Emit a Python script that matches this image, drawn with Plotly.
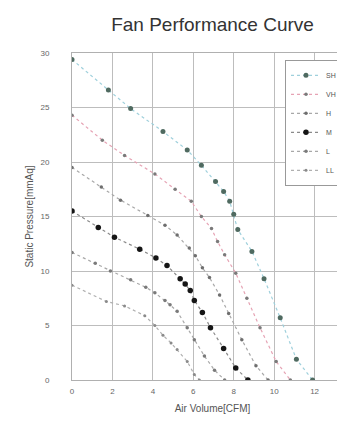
import plotly.graph_objects as go

# ---- data ----
names = ["SH", "VH", "H", "M", "L", "LL"]

sh_x = [0.0, 1.8, 2.9, 4.5, 5.7, 6.4, 7.1, 7.5, 7.8, 8.0, 8.2, 8.9, 9.5, 10.3, 11.1, 11.9]
sh_y = [29.4, 26.6, 24.9, 22.8, 21.1, 19.7, 18.2, 17.3, 16.4, 15.2, 13.8, 11.8, 9.3, 5.7, 1.9, 0.0]

vh_x = [0.0, 1.5, 2.6, 4.1, 5.1, 5.9, 6.4, 6.9, 7.2, 7.55, 8.1, 8.65, 9.3, 10.1, 10.8]
vh_y = [24.3, 22.0, 20.6, 18.9, 17.5, 16.4, 15.0, 13.9, 12.7, 11.5, 9.8, 7.5, 4.8, 1.7, 0.0]

h_x = [0.0, 1.45, 2.4, 3.75, 4.6, 5.2, 5.8, 6.1, 6.45, 6.8, 7.3, 7.75, 8.4, 9.1, 9.7]
h_y = [19.5, 17.7, 16.5, 15.1, 14.2, 13.3, 12.1, 11.4, 10.3, 9.4, 7.8, 6.1, 3.7, 1.3, 0.0]

m_x = [0.0, 1.3, 2.1, 3.35, 4.15, 4.7, 5.35, 5.6, 5.85, 6.05, 6.45, 6.85, 7.5, 8.1, 8.7]
m_y = [15.5, 14.0, 13.1, 12.0, 11.2, 10.5, 9.3, 8.8, 8.2, 7.3, 6.2, 4.8, 2.9, 1.1, 0.0]

l_x = [0.0, 1.15, 1.9, 2.9, 3.65, 4.1, 4.6, 4.85, 5.2, 5.7, 6.05, 6.55, 7.05, 7.55]
l_y = [11.7, 10.7, 10.0, 9.2, 8.5, 8.0, 7.3, 6.9, 6.3, 4.8, 3.7, 2.2, 0.9, 0.0]

ll_x = [0.0, 1.7, 2.6, 3.6, 4.1, 4.5, 4.9, 5.2, 5.7, 6.05, 6.3]
ll_y = [8.7, 7.2, 6.8, 5.9, 5.0, 4.1, 3.4, 2.8, 1.7, 0.5, 0.0]

xs = [sh_x, vh_x, h_x, m_x, l_x, ll_x]
ys = [sh_y, vh_y, h_y, m_y, l_y, ll_y]

x_ticks = [0, 2, 4, 6, 8, 10, 12, 14]
y_ticks = [0, 5, 10, 15, 20, 25, 30]

# ---- styles ----
line_colors = ["#9fd0dc", "#e6a3b4", "#a8a8a8", "#8a8a8a", "#a8a8a8", "#b0b0b0"]
marker_colors = ["#4f6a60", "#7a7a7a", "#6e6e6e", "#151515", "#7a7a7a", "#8a8a8a"]
marker_sizes = [5, 3.5, 3.5, 5.5, 3.5, 3]

fig = go.Figure()
for i, n in enumerate(names):
    fig.add_trace(go.Scatter(
        x=xs[i], y=ys[i], name=n, mode="lines+markers",
        line=dict(color=line_colors[i], width=1.2, dash="dot"),
        marker=dict(color=marker_colors[i], size=marker_sizes[i]),
    ))

fig.update_layout(
    width=345, height=422,
    margin=dict(l=64, r=0, t=45, b=50),
    paper_bgcolor="white", plot_bgcolor="white",
    font=dict(family="Liberation Sans, Arial, sans-serif", color="#444"),
    title=dict(text="Fan Performance Curve", x=0.5, xref="paper",
               y=1 - 16 / 422, yref="container", yanchor="middle", xanchor="center",
               font=dict(size=19, color="#333")),
    showlegend=True,
    legend=dict(x=0.758, y=0.979, xanchor="left", yanchor="top",
                bgcolor="white", bordercolor="#999", borderwidth=1,
                font=dict(size=7, color="#555"),
                itemwidth=30),
)
fig.update_xaxes(range=[0, 13.9], tickvals=x_ticks, showgrid=True,
                 gridcolor="#bdbdbd", gridwidth=1, zeroline=False,
                 showline=True, linecolor="#b0b0b0", mirror=True,
                 tickfont=dict(size=8, color="#666"), ticklabelstandoff=3,
                 title=dict(text="Air Volume[CFM]", font=dict(size=10, color="#555"), standoff=10))
fig.update_yaxes(range=[0, 30], tickvals=y_ticks, showgrid=True,
                 gridcolor="#bdbdbd", gridwidth=1, zeroline=False,
                 showline=True, linecolor="#b0b0b0", mirror=True,
                 tickfont=dict(size=8, color="#666"), ticklabelstandoff=20,
                 title=dict(text="Static Pressure[mmAq]", font=dict(size=10, color="#555"), standoff=4))

fig.write_html("out.html")
